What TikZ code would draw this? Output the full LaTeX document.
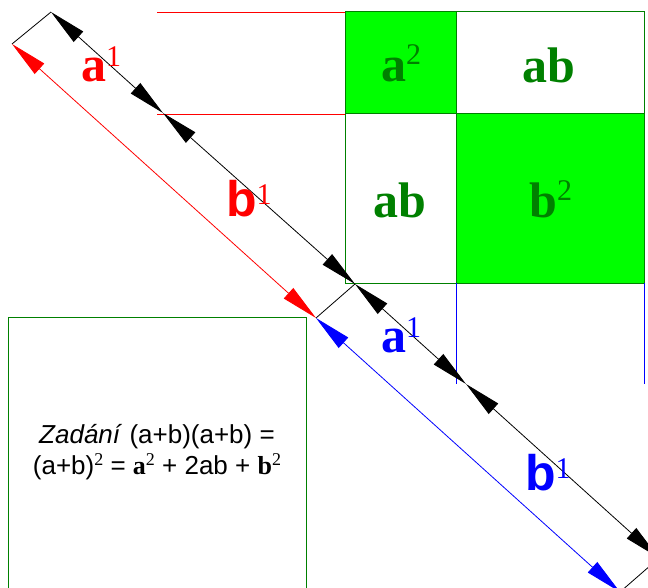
\documentclass[tikz,border=0pt]{standalone}
\usepackage{fontspec}
\setmainfont{Liberation Serif}
\setsansfont{Liberation Sans}
\usetikzlibrary{arrows.meta}
\definecolor{dkgreen}{HTML}{008000}
\definecolor{ltgreen}{HTML}{00FF00}
\newcommand{\upnum}[2][17pt]{\raisebox{#1}{\fontsize{30}{30}\selectfont\mdseries\rmfamily #2}}
\newcommand{\smallup}[1]{\raisebox{9pt}{\fontsize{18}{18}\selectfont\rmfamily #1}}

\begin{document}
\begin{tikzpicture}[x=1pt, y=-1pt,
  dim/.style={{Triangle[length=37pt,width=14pt]}-{Triangle[length=37pt,width=14pt]}, line width=0.8pt},
  big/.style={font=\fontsize{50}{50}\selectfont\bfseries, inner sep=0pt, anchor=base west}]
  \useasboundingbox (0,0) rectangle (648,588);
  \clip (0,0) rectangle (648,588);
  % the square (a+b)^2
  \fill[ltgreen] (345,12) rectangle (456,114) (456,114) rectangle (644,283);
  \draw[dkgreen, line width=1pt] (345,12) rectangle (644,283) (456,12) -- (456,283) (345,114) -- (644,114);
  \draw[red] (157,12) -- (345,12) (157,114) -- (345,114);
  \draw[blue] (456,283) -- (456,384) (644,283) -- (644,384);
  \draw[dkgreen, line width=1pt] (8,600) -- (8,317) -- (306,317) -- (306,600);
  % dimension lines
  \coordinate (p0) at (51,12);
  \coordinate (p1) at (163,113);
  \coordinate (p2) at (355,284);
  \coordinate (p3) at (466,384);
  \coordinate (p4) at (659,558);
  \coordinate (q0) at (12,44);
  \coordinate (q2) at (316,318);
  \coordinate (q4) at (620,592);
  \foreach \p/\q in {p0/q0, p2/q2, p4/q4}
    \draw[line width=0.8pt] (\p) -- (\q);
  \foreach \s/\e in {p0/p1, p1/p2, p2/p3, p3/p4}
    \draw[dim] (\s) -- (\e);
  \draw[dim, red] (q0) -- (q2);
  \draw[dim, blue] (q2) -- (q4);
  % labels
  \node[big, red] (a-red) at (81,82) {a\upnum[15pt]{1}};
  \node[big, red, font=\fontsize{50}{50}\selectfont\sffamily\bfseries] (b-red) at (226,217) {b\upnum[12pt]{1}};
  \node[big, blue] (a-blue) at (381,352) {a\upnum[15pt]{1}};
  \node[big, blue, font=\fontsize{50}{50}\selectfont\sffamily\bfseries] (b-blue) at (525,490) {b\upnum[12pt]{1}};
  \node[big, dkgreen] (aa) at (381,82) {a\upnum{2}};
  \node[big, dkgreen] (ab-top) at (522,83) {ab};
  \node[big, dkgreen] (ab-left) at (373,218) {ab};
  \node[big, dkgreen] (bb) at (529,218) {b\upnum{2}};
  \node[font=\sffamily\fontsize{26}{31}\selectfont, align=center] (task) at (157,452)
    {\textit{Zadání} (a+b)(a+b) =\\(a+b)\smallup{2} = {\rmfamily\bfseries a}\smallup{2} + 2ab + {\rmfamily\bfseries b}\smallup{2}};
\end{tikzpicture}
\end{document}
